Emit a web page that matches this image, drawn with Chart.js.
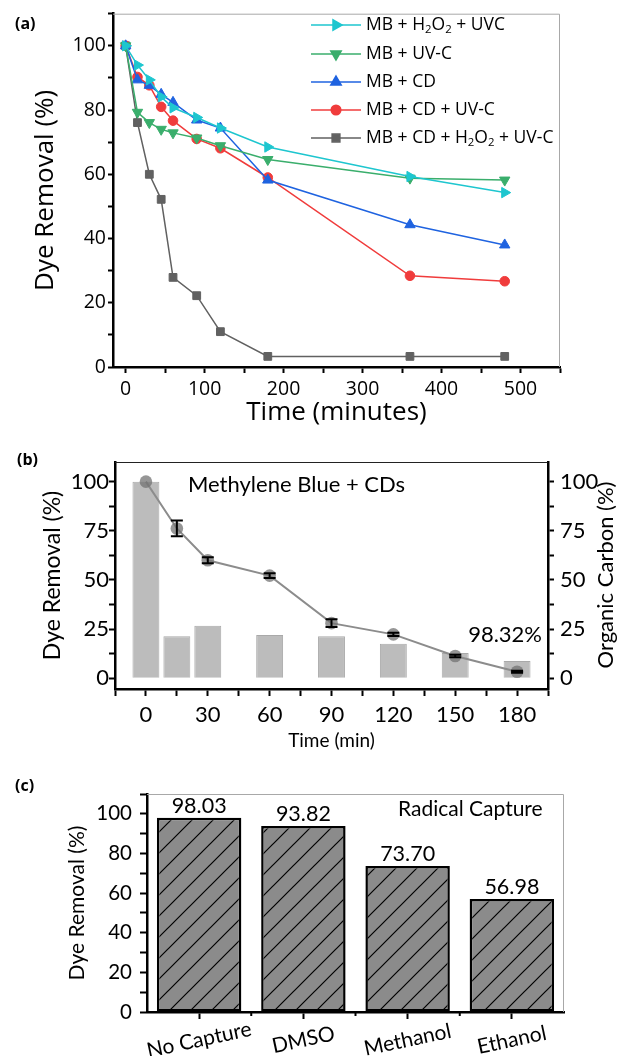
<!DOCTYPE html>
<html>
<head>
<meta charset="utf-8">
<script src="https://cdn.jsdelivr.net/npm/chart.js@4.4.1/dist/chart.umd.min.js"></script>
<style>
  html, body { margin: 0; padding: 0; background: #fff; }
  canvas { position: absolute; left: 0; }
</style>
</head>
<body>
<canvas id="chartA" width="621" height="430" style="top:0px"></canvas>
<canvas id="chartB" width="621" height="320" style="top:440px"></canvas>
<canvas id="chartC" width="621" height="296" style="top:760px"></canvas>
<script>
// ---- data: panel (a) ----
const timesA = [0, 15, 30, 45, 60, 90, 120, 180, 360, 480];
const namesA = ['MB + H₂O₂ + UVC', 'MB + UV-C', 'MB + CD', 'MB + CD + UV-C', 'MB + CD + H₂O₂ + UV-C'];
const mbH2o2Uvc = [100, 94, 89.4, 84.1, 80.7, 77.7, 74.4, 68.5, 59.3, 54.3];
const mbUvc = [100, 79.3, 76.1, 74, 72.9, 71.3, 68.9, 64.6, 58.8, 58.2];
const mbCd = [100, 89.4, 87.7, 84.9, 82.4, 76.9, 74.4, 58.2, 44.3, 38];
const mbCdUvc = [100, 90.3, 87.7, 81, 76.7, 71, 68.1, 59, 28.4, 26.7];
const mbCdH2o2Uvc = [100, 76.1, 60, 52.2, 27.9, 22.2, 11, 3.3, 3.3, 3.3];

// ---- data: panel (b) ----
const timesB = [0, 15, 30, 60, 90, 120, 150, 180];
const dyeRemovalB = [100, 76.2, 60, 52.2, 28, 22.3, 11.3, 3.3];
const dyeErrorB = [0, 4, 1.5, 1.2, 2, 0.8, 0.6, 0.5];
const organicCarbonB = [100, 21.3, 26.7, 22, 21.3, 17.5, 12.8, 8.7];

// ---- data: panel (c) ----
const scavengers = ['No Capture', 'DMSO', 'Methanol', 'Ethanol'];
const removalC = [98.03, 93.82, 73.70, 56.98];

const FA = "'Open Sans', sans-serif";
const FB = "Lato, sans-serif";

// draws text where '₂' is set as a real subscript
function drawRich(ctx, text, x, y, size, family) {
  let cx = x;
  text.split(/(₂)/).forEach(part => {
    if (!part) return;
    if (part === '₂') {
      ctx.font = (size * 0.65) + 'px ' + family;
      ctx.fillText('2', cx, y + size * 0.3);
      cx += ctx.measureText('2').width;
    } else {
      ctx.font = size + 'px ' + family;
      ctx.fillText(part, cx, y);
      cx += ctx.measureText(part).width;
    }
  });
}

const framePlugin = {
  id: 'frame',
  afterDraw(chart, args, opts) {
    const { ctx, chartArea: a } = chart;
    ctx.save();
    ctx.strokeStyle = opts.color;
    ctx.lineWidth = opts.width;
    ctx.beginPath();
    ctx.moveTo(a.left, a.top + 0.5);
    ctx.lineTo(a.right - 0.5, a.top + 0.5);
    if (opts.right) ctx.lineTo(a.right - 0.5, a.bottom);
    ctx.stroke();
    ctx.fillStyle = '#000';
    ctx.font = 'bold 16px ' + FA;
    ctx.textBaseline = 'middle';
    ctx.fillText(opts.letter, opts.lx, opts.ly);
    ctx.restore();
  }
};

function axisBase(family, size) {
  return {
    border: { color: '#000', width: 2.5 },
    grid: { drawOnChartArea: false, tickLength: 6, tickWidth: 2, tickColor: '#000' },
    ticks: { autoSkip: false, maxRotation: 0, color: '#000', font: { family: family, size: size } }
  };
}

// ================= (a) =================
const seriesA = [mbH2o2Uvc, mbUvc, mbCd, mbCdUvc, mbCdH2o2Uvc];
const colorsA = ['#1ec6cf', '#3aae6c', '#1f63e0', '#f03c3c', '#616161'];
const markersA = [
  { style: 'triangle', rotation: 90, radius: 6 },
  { style: 'triangle', rotation: 180, radius: 6 },
  { style: 'triangle', rotation: 0, radius: 6 },
  { style: 'circle', rotation: 0, radius: 4.8 },
  { style: 'rect', rotation: 0, radius: 5.5 }
];

const legendA = {
  id: 'legendA',
  afterDraw(chart, args, opts) {
    const ctx = chart.ctx;
    ctx.save();
    chart.data.datasets.forEach((ds, i) => {
      const y = opts.rows[i];
      ctx.strokeStyle = ds.borderColor;
      ctx.fillStyle = ds.borderColor;
      ctx.lineWidth = 1.5;
      ctx.beginPath();
      ctx.moveTo(opts.x0, y);
      ctx.lineTo(opts.x1, y);
      ctx.stroke();
      Chart.helpers.drawPoint(ctx, {
        pointStyle: ds.pointStyle, rotation: ds.pointRotation,
        radius: ds.pointRadius, borderWidth: 1
      }, (opts.x0 + opts.x1) / 2, y);
      ctx.fillStyle = '#000';
      ctx.textBaseline = 'middle';
      ctx.textAlign = 'left';
      drawRich(ctx, ds.label, opts.tx, y, 17.5, FA);
    });
    ctx.restore();
  }
};

const axA = axisBase(FA, 19.5);
new Chart(document.getElementById('chartA'), {
  type: 'line',
  data: {
    datasets: seriesA.map((vals, i) => ({
      label: namesA[i],
      data: timesA.map((t, j) => ({ x: t, y: vals[j] })),
      borderColor: colorsA[i],
      backgroundColor: colorsA[i],
      borderWidth: 1.5,
      pointStyle: markersA[i].style,
      pointRotation: markersA[i].rotation,
      pointRadius: markersA[i].radius,
      pointBorderWidth: 1
    }))
  },
  options: {
    responsive: false,
    animation: false,
    layout: { padding: { top: 9, right: 61, left: 0, bottom: 0 } },
    plugins: {
      legend: { display: false },
      tooltip: { enabled: false },
      frame: { color: '#a8a8a8', width: 1, right: true, letter: '(a)', lx: 15, ly: 24 },
      legendA: { rows: [25, 54, 82, 110, 138], x0: 311, x1: 361, tx: 366 }
    },
    scales: {
      x: {
        type: 'linear', min: -16, max: 550,
        afterFit: s => { s.height = 63; },
        border: axA.border, grid: axA.grid,
        ticks: Object.assign({}, axA.ticks, {
          stepSize: 50, includeBounds: false, padding: 5,
          callback: v => (v >= 0 && v % 100 === 0) ? v : ''
        }),
        title: { display: true, text: 'Time (minutes)', color: '#000',
          font: { family: FA, size: 26 }, padding: { top: 0, bottom: 1.5 } }
      },
      y: {
        min: 0, max: 110,
        afterFit: s => { s.width = 113; },
        border: axA.border,
        grid: Object.assign({}, axA.grid, { tickLength: 5 }),
        ticks: Object.assign({}, axA.ticks, {
          stepSize: 10, padding: 2,
          callback: v => (v % 20 === 0 && v <= 100) ? v : ''
        }),
        title: { display: true, text: 'Dye Removal (%)', color: '#000',
          font: { family: FA, size: 26 }, padding: { top: 30, bottom: 0 } }
      }
    }
  },
  plugins: [framePlugin, legendA]
});

// ================= (b) =================
const notesB = {
  id: 'notesB',
  afterDatasetsDraw(chart) {
    const ctx = chart.ctx;
    const meta = chart.getDatasetMeta(1);
    const ys = chart.scales.y;
    ctx.save();
    ctx.strokeStyle = '#000';
    ctx.lineWidth = 2;
    meta.data.forEach((pt, i) => {
      const e = dyeErrorB[i];
      if (!e) return;
      const yt = ys.getPixelForValue(dyeRemovalB[i] + e);
      const yb = ys.getPixelForValue(dyeRemovalB[i] - e);
      ctx.beginPath();
      ctx.moveTo(pt.x, yt); ctx.lineTo(pt.x, yb);
      ctx.moveTo(pt.x - 6, yt); ctx.lineTo(pt.x + 6, yt);
      ctx.moveTo(pt.x - 6, yb); ctx.lineTo(pt.x + 6, yb);
      ctx.stroke();
    });
    ctx.restore();
  },
  afterDraw(chart) {
    const ctx = chart.ctx;
    ctx.save();
    ctx.fillStyle = '#000';
    ctx.textBaseline = 'middle';
    ctx.font = '22px ' + FB;
    ctx.textAlign = 'left';
    ctx.fillText('Methylene Blue + CDs', 188, 45);
    ctx.textAlign = 'right';
    ctx.fillText('98.32%', 542, 195);
    ctx.translate(606, 135);
    ctx.rotate(-Math.PI / 2);
    ctx.textAlign = 'center';
    ctx.font = '22px ' + FB;
    ctx.fillText('Organic Carbon (%)', 0, 0);
    ctx.restore();
  }
};

const axB = axisBase(FB, 22);
const yTicksB = Object.assign({}, axB.ticks, {
  stepSize: 12.5, includeBounds: false,
  callback: v => (v >= 0 && v % 25 === 0) ? v : ''
});
new Chart(document.getElementById('chartB'), {
  type: 'bar',
  data: {
    datasets: [{
      type: 'bar',
      label: 'Organic Carbon',
      data: timesB.map((t, i) => ({ x: t, y: organicCarbonB[i] })),
      yAxisID: 'y2',
      backgroundColor: '#bcbcbc',
      borderColor: '#a9a9a9',
      borderWidth: 1,
      barPercentage: 0.87,
      categoryPercentage: 1,
      order: 1
    }, {
      type: 'line',
      label: 'Dye Removal',
      data: timesB.map((t, i) => ({ x: t, y: dyeRemovalB[i] })),
      yAxisID: 'y',
      borderColor: '#8c8c8c',
      borderWidth: 2,
      backgroundColor: 'rgba(115,115,115,0.75)',
      pointBorderColor: 'rgba(115,115,115,0.75)',
      pointRadius: 6.3,
      pointBorderWidth: 0,
      order: 0
    }]
  },
  options: {
    responsive: false,
    animation: false,
    layout: { padding: { top: 22, right: 0, left: 0, bottom: 0 } },
    plugins: {
      legend: { display: false },
      tooltip: { enabled: false },
      frame: { color: '#222', width: 1.2, right: false, letter: '(b)', lx: 17, ly: 20 }
    },
    scales: {
      x: {
        type: 'linear', min: -15, max: 195, offset: false,
        afterFit: s => { s.height = 71; },
        border: axB.border,
        grid: Object.assign({}, axB.grid, { offset: false, tickLength: 7 }),
        ticks: Object.assign({}, axB.ticks, {
          stepSize: 15, padding: 6,
          callback: v => (v >= 0 && v <= 180 && v % 30 === 0) ? v : ''
        }),
        title: { display: true, text: 'Time (min)', color: '#000',
          font: { family: FB, size: 19 }, padding: { top: 0, bottom: 7.5 } }
      },
      y: {
        position: 'left', min: -5.5, max: 110,
        afterFit: s => { s.width = 115; },
        border: axB.border, grid: axB.grid,
        ticks: Object.assign({}, yTicksB, { padding: 0 }),
        title: { display: true, text: 'Dye Removal (%)', color: '#000',
          font: { family: FB, size: 23 }, padding: { top: 39, bottom: 0 } }
      },
      y2: {
        position: 'right', min: -5.5, max: 110,
        afterFit: s => { s.width = 73; },
        border: axB.border, grid: axB.grid,
        ticks: Object.assign({}, yTicksB, { padding: 6 })
      }
    }
  },
  plugins: [framePlugin, notesB]
});

// ================= (c) =================
const ctxC = document.getElementById('chartC').getContext('2d');
function hatchPattern(fill, step) {
  const c = document.createElement('canvas');
  c.width = step; c.height = step;
  const g = c.getContext('2d');
  g.fillStyle = fill;
  g.fillRect(0, 0, step, step);
  g.strokeStyle = '#000';
  g.lineWidth = 1.2;
  g.beginPath();
  g.moveTo(0, step); g.lineTo(step, 0);
  g.moveTo(-4, 4); g.lineTo(4, -4);
  g.moveTo(step - 4, step + 4); g.lineTo(step + 4, step - 4);
  g.stroke();
  return ctxC.createPattern(c, 'repeat');
}

const notesC = {
  id: 'notesC',
  afterDraw(chart) {
    const ctx = chart.ctx;
    const xs = chart.scales.x;
    const bars = chart.getDatasetMeta(0).data;
    ctx.save();
    ctx.fillStyle = '#000';
    ctx.font = '21.5px ' + FB;
    ctx.textAlign = 'center';
    ctx.textBaseline = 'bottom';
    bars.forEach((b, i) => ctx.fillText(removalC[i].toFixed(2), b.x, b.y - 1));
    // slanted category labels
    ctx.font = '21px ' + FB;
    ctx.textBaseline = 'middle';
    scavengers.forEach((lab, i) => {
      ctx.save();
      ctx.translate(xs.getPixelForValue(i), 280);
      ctx.rotate(-12 * Math.PI / 180);
      ctx.fillText(lab, 0, 0);
      ctx.restore();
    });
    // short ticks between categories
    ctx.strokeStyle = '#000';
    ctx.lineWidth = 2;
    const half = (xs.getPixelForValue(1) - xs.getPixelForValue(0)) / 2;
    for (let i = 0; i < scavengers.length - 1; i++) {
      const x = xs.getPixelForValue(i) + half;
      ctx.beginPath();
      ctx.moveTo(x, xs.top);
      ctx.lineTo(x, xs.top + 4);
      ctx.stroke();
    }
    ctx.textAlign = 'left';
    ctx.fillText('Radical Capture', 398, 49);
    ctx.restore();
  }
};

const axC = axisBase(FB, 20.5);
new Chart(ctxC, {
  type: 'bar',
  data: {
    labels: scavengers,
    datasets: [{
      label: 'Dye Removal',
      data: removalC,
      backgroundColor: hatchPattern('#8b8b8b', 21),
      borderColor: '#000',
      borderWidth: 2.5,
      borderSkipped: false,
      barPercentage: 0.81,
      categoryPercentage: 1
    }]
  },
  options: {
    responsive: false,
    animation: false,
    layout: { padding: { top: 34, right: 57, left: 0, bottom: 0 } },
    plugins: {
      legend: { display: false },
      tooltip: { enabled: false },
      frame: { color: '#a8a8a8', width: 1, right: true, letter: '(c)', lx: 15, ly: 26 }
    },
    scales: {
      x: {
        offset: true,
        afterFit: s => { s.height = 44; },
        border: axC.border,
        grid: Object.assign({}, axC.grid, { offset: false, tickLength: 7 }),
        ticks: Object.assign({}, axC.ticks, { color: 'rgba(0,0,0,0)' })
      },
      y: {
        min: 0, max: 110,
        afterFit: s => { s.width = 147; },
        border: axC.border,
        grid: Object.assign({}, axC.grid, { tickLength: 7 }),
        ticks: Object.assign({}, axC.ticks, {
          stepSize: 10, padding: 8,
          callback: v => (v % 20 === 0 && v <= 100) ? v : ''
        }),
        title: { display: true, text: 'Dye Removal (%)', color: '#000',
          font: { family: FB, size: 21 }, padding: { top: 65, bottom: 0 } }
      }
    }
  },
  plugins: [framePlugin, notesC]
});
</script>
</body>
</html>
